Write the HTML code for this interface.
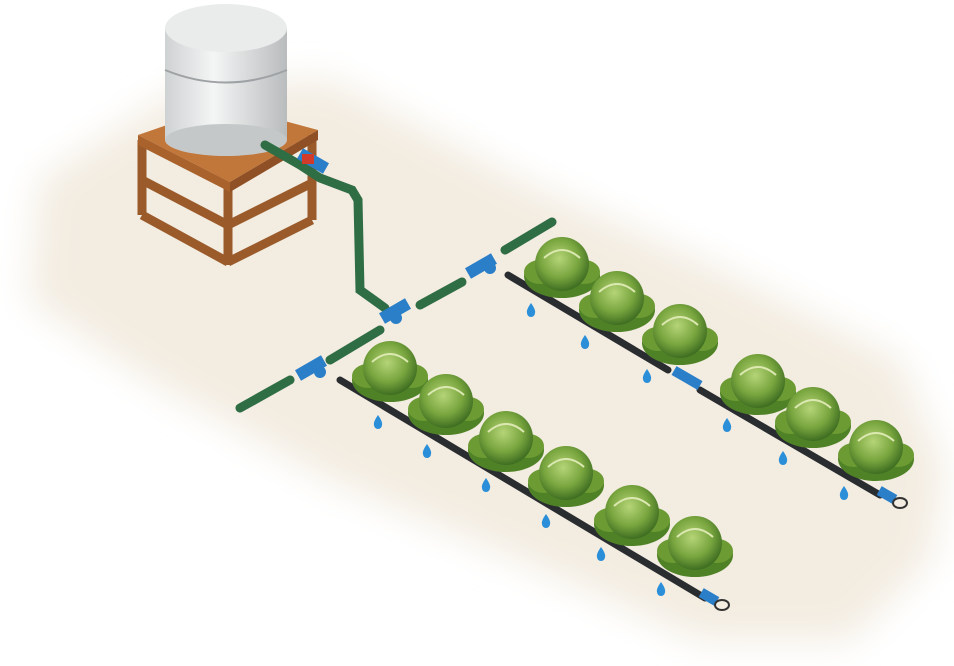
<!DOCTYPE html>
<html><head><meta charset="utf-8"><style>html,body{margin:0;padding:0;background:#fff;width:954px;height:666px;overflow:hidden}</style></head>
<body>
<svg width="954" height="666" viewBox="0 0 954 666" xmlns="http://www.w3.org/2000/svg">
<defs>
<filter id="bl" x="-10%" y="-10%" width="120%" height="120%"><feGaussianBlur stdDeviation="18"/></filter>
<radialGradient id="cab" cx="45%" cy="40%" r="60%"><stop offset="0" stop-color="#b5d477"/><stop offset="0.6" stop-color="#78a53e"/><stop offset="1" stop-color="#3f6e22"/></radialGradient>
<linearGradient id="tank" x1="0" x2="1"><stop offset="0" stop-color="#cfd2d3"/><stop offset="0.4" stop-color="#f4f5f5"/><stop offset="1" stop-color="#b9bcbd"/></linearGradient>
<g id="c">
<ellipse cx="0" cy="8" rx="38" ry="22" fill="#4f8226"/>
<ellipse cx="-22" cy="4" rx="16" ry="12" fill="#6c9a33"/>
<ellipse cx="22" cy="4" rx="16" ry="12" fill="#6c9a33"/>
<circle cx="0" cy="-4" r="27" fill="url(#cab)"/>
<path d="M-18 -10 Q0 -26 18 -10" stroke="#dbe8b0" stroke-width="2" fill="none"/>
</g>
<path id="d" d="M0 -7 Q5 0 4 3 A4 4 0 0 1 -4 3 Q-5 0 0 -7Z" fill="#2a8fd8"/>
</defs>
<polygon points="40,180 180,90 330,80 520,180 700,260 900,360 945,470 930,560 850,640 700,640 520,560 330,480 150,380 30,300" fill="#f3ece1" filter="url(#bl)"/>
<g stroke="#9a5a2a" stroke-width="9" fill="none">
<line x1="142" y1="140" x2="142" y2="215"/><line x1="228" y1="185" x2="228" y2="265"/><line x1="312" y1="135" x2="312" y2="220"/>
<line x1="142" y1="215" x2="228" y2="262"/><line x1="228" y1="262" x2="312" y2="220"/>
<line x1="142" y1="180" x2="228" y2="225"/><line x1="228" y1="225" x2="312" y2="183"/>
</g>
<polygon points="138,135 225,105 318,130 230,182" fill="#c2773a"/>
<polygon points="138,135 230,182 230,192 138,145" fill="#a9622c"/>
<polygon points="230,182 318,130 318,140 230,192" fill="#8f5025"/>
<rect x="165" y="28" width="122" height="112" fill="url(#tank)"/>
<ellipse cx="226" cy="140" rx="61" ry="16" fill="#c5c8c9"/>
<path d="M165 70 Q226 95 287 70" stroke="#9ea2a4" stroke-width="2" fill="none"/>
<ellipse cx="226" cy="28" rx="61" ry="24" fill="#eaecec"/>
<g stroke="#2f6d45" stroke-width="9" fill="none" stroke-linecap="round">
<polyline points="265,145 300,165 320,178 352,190 358,200 360,290 385,308"/>
<line x1="240" y1="408" x2="290" y2="380"/>
<line x1="330" y1="360" x2="380" y2="330"/>
<line x1="420" y1="305" x2="462" y2="282"/>
<line x1="505" y1="250" x2="552" y2="222"/>
</g>
<g stroke="#2a2d30" stroke-width="7" stroke-linecap="round">
<line x1="340" y1="380" x2="705" y2="598"/>
<line x1="508" y1="275" x2="668" y2="370"/>
<line x1="700" y1="390" x2="880" y2="495"/>
</g>
<g fill="#2a7fc8">
<rect x="298" y="155" width="30" height="12" transform="rotate(30 313 161)"/>
<rect x="380" y="305" width="30" height="12" transform="rotate(-30 395 311)"/>
<rect x="296" y="362" width="30" height="12" transform="rotate(-30 311 368)"/>
<rect x="466" y="260" width="30" height="12" transform="rotate(-30 481 266)"/>
<rect x="672" y="373" width="30" height="10" transform="rotate(30 687 378)"/>
<rect x="700" y="592" width="18" height="10" transform="rotate(30 709 597)"/>
<rect x="878" y="490" width="18" height="10" transform="rotate(30 887 495)"/>
<circle cx="320" cy="372" r="6"/><circle cx="490" cy="268" r="6"/><circle cx="396" cy="318" r="6"/>
</g>
<rect x="302" y="154" width="12" height="10" fill="#d23a2a"/>
<ellipse cx="722" cy="605" rx="7" ry="5" fill="none" stroke="#333" stroke-width="2"/>
<ellipse cx="900" cy="503" rx="7" ry="5" fill="none" stroke="#333" stroke-width="2"/>
<use href="#c" x="562" y="268"/><use href="#c" x="617" y="302"/><use href="#c" x="680" y="335"/>
<use href="#c" x="758" y="385"/><use href="#c" x="813" y="418"/><use href="#c" x="876" y="451"/>
<use href="#c" x="390" y="372"/><use href="#c" x="446" y="405"/><use href="#c" x="506" y="442"/>
<use href="#c" x="566" y="477"/><use href="#c" x="632" y="516"/><use href="#c" x="695" y="547"/>
<use href="#d" x="531" y="310"/><use href="#d" x="585" y="342"/><use href="#d" x="647" y="376"/>
<use href="#d" x="727" y="425"/><use href="#d" x="783" y="458"/><use href="#d" x="844" y="493"/>
<use href="#d" x="378" y="422"/><use href="#d" x="427" y="451"/><use href="#d" x="486" y="485"/>
<use href="#d" x="546" y="521"/><use href="#d" x="601" y="554"/><use href="#d" x="661" y="589"/>
</svg>
</body></html>
